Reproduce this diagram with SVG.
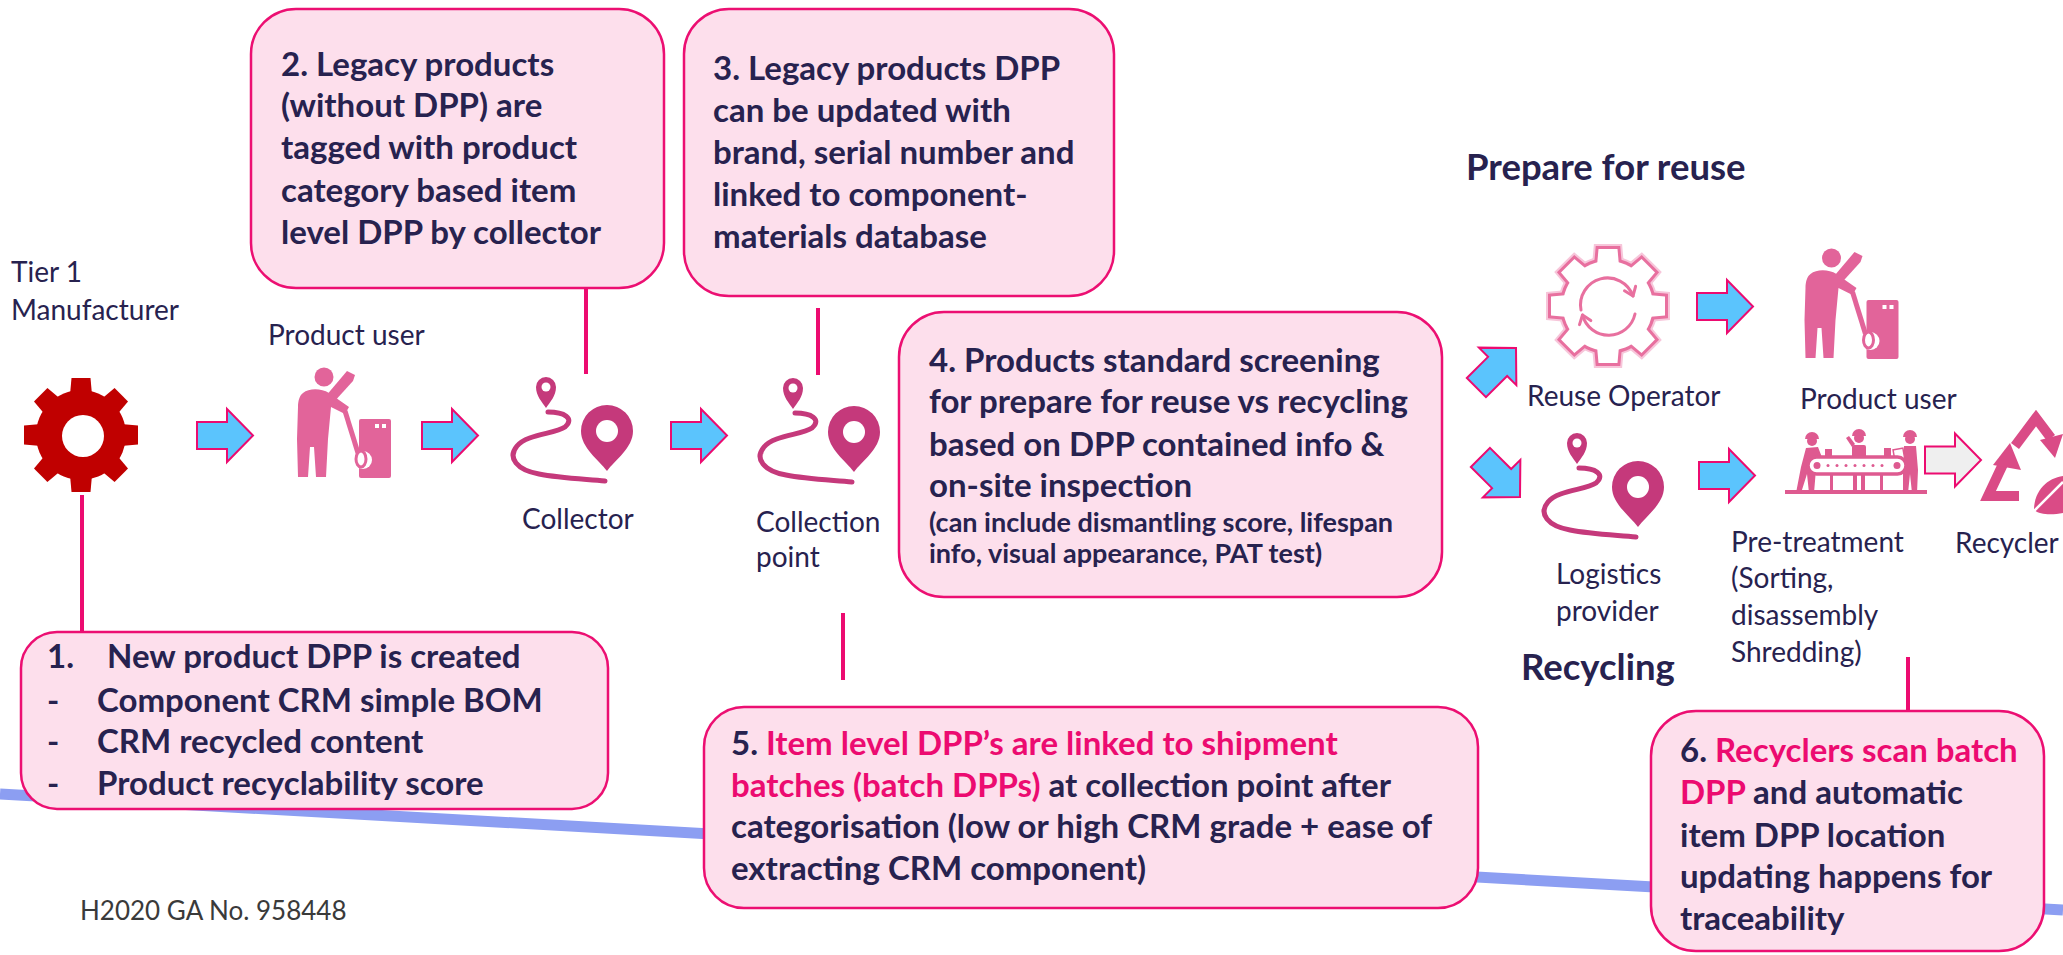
<svg xmlns="http://www.w3.org/2000/svg" width="2063" height="955" viewBox="0 0 2063 955">
<defs>
<style>
.box{fill:#FDDFEC;stroke:#EC0F72;stroke-width:2.5}
.b{font-family:Lato,"Liberation Sans",sans-serif;font-weight:700;font-size:33px;fill:#27224F}
.s{font-size:27px}
.hl{fill:#EC0B70}
.lbl{font-family:Lato,"Liberation Sans",sans-serif;font-size:28px;fill:#27224F}
.hd{font-family:Lato,"Liberation Sans",sans-serif;font-weight:700;font-size:36.5px;fill:#27224F}
.foot{font-family:Lato,"Liberation Sans",sans-serif;font-size:26px;fill:#3A3A3A}
.lnk{stroke:#EC0B70;stroke-width:4;fill:none}
.arr{fill:#5BC4FD;stroke:#EC0B70;stroke-width:2}
.arrg{fill:#EFEFEF;stroke:#EC0B70;stroke-width:2}
</style>
<!-- block arrow, tail at origin, pointing +x -->
<path id="arrow" d="M0,-13.5 H30 V-26.5 L56,0 L30,26.5 V13.5 H0 Z"/>
<!-- eight-tooth gear silhouette centred on origin -->
<g id="gearShape">
<circle r="45"/>
<polygon points="-11,-40 -9.5,-57 9.5,-57 11,-40"/>
<polygon points="-11,-40 -9.5,-57 9.5,-57 11,-40" transform="rotate(45)"/>
<polygon points="-11,-40 -9.5,-57 9.5,-57 11,-40" transform="rotate(90)"/>
<polygon points="-11,-40 -9.5,-57 9.5,-57 11,-40" transform="rotate(135)"/>
<polygon points="-11,-40 -9.5,-57 9.5,-57 11,-40" transform="rotate(180)"/>
<polygon points="-11,-40 -9.5,-57 9.5,-57 11,-40" transform="rotate(225)"/>
<polygon points="-11,-40 -9.5,-57 9.5,-57 11,-40" transform="rotate(270)"/>
<polygon points="-11,-40 -9.5,-57 9.5,-57 11,-40" transform="rotate(315)"/>
</g>
<!-- route with two location pins -->
<symbol id="route" viewBox="0 0 125 108" overflow="visible">
<g fill="#C5397B">
<path d="M37,34 C33,28 27,22 27,13 A10,10 0 1 1 47,13 C47,22 41,28 37,34 Z"/>
<path d="M98,97 C90,86 72,74 72,57 A26,26 0 1 1 124,57 C124,74 106,86 98,97 Z"/>
</g>
<circle cx="37" cy="13" r="4.5" fill="#fff"/>
<circle cx="98" cy="57" r="11" fill="#fff"/>
<path d="M39,38 C55,38 66,44 56,53 C46,60 18,60 8,72 C-2,84 8,96 30,100 C50,104 75,105 96,107" fill="none" stroke="#C5397B" stroke-width="5" stroke-linecap="round"/>
</symbol>
<!-- person loading a washing machine -->
<symbol id="user" viewBox="0 0 94 111" overflow="visible">
<g fill="#E2649A">
<circle cx="27" cy="10" r="9.5"/>
<path d="M28,30 L50,4 L58,8 L56,14 L36,36 Z"/>
<path d="M6,26 C12,21 24,21 32,26 L52,40 L48,47 L34,40 L31,72 L29,110 L19,110 L17,80 L13,80 L11,110 L1,110 L0,72 L1,40 C1,33 3,28 6,26 Z"/>
<rect x="62" y="52" width="32" height="59" rx="2"/>
</g>
<rect x="78" y="57" width="4" height="4" fill="#fff"/>
<rect x="85" y="57" width="4" height="4" fill="#fff"/>
<circle cx="66" cy="93" r="9" fill="#fff"/>
<path d="M48,44 L61,86" stroke="#E2649A" stroke-width="5" fill="none"/>
<ellipse cx="64" cy="92" rx="5" ry="8" fill="none" stroke="#E2649A" stroke-width="3"/>
</symbol>
</defs>

<rect width="2063" height="955" fill="#fff"/>

<!-- timeline band behind the boxes -->
<line x1="0" y1="794" x2="2063" y2="910" stroke="#8C9EF2" stroke-width="11"/>

<!-- connectors -->
<g id="connectors">
<line class="lnk" x1="82" y1="495" x2="82" y2="632"/>
<line class="lnk" x1="586" y1="288" x2="586" y2="374"/>
<line class="lnk" x1="818" y1="308" x2="818" y2="375"/>
<line class="lnk" x1="843" y1="613" x2="843" y2="680"/>
<line class="lnk" x1="1908" y1="657" x2="1908" y2="724"/>
<use href="#arrow" class="arr" transform="translate(197 435.5)"/>
<use href="#arrow" class="arr" transform="translate(422 435.5)"/>
<use href="#arrow" class="arr" transform="translate(671 435.5)"/>
<use href="#arrow" class="arr" transform="translate(1516 348) rotate(-45) translate(-56 0)"/>
<use href="#arrow" class="arr" transform="translate(1520 497) rotate(45) translate(-56 0)"/>
<use href="#arrow" class="arr" transform="translate(1697 306.5)"/>
<use href="#arrow" class="arr" transform="translate(1699 475.5)"/>
<use href="#arrow" class="arrg" transform="translate(1925 460)"/>
</g>

<!-- Tier 1 manufacturer -->
<g id="manufacturer">
<text class="lbl" x="11" y="282">Tier 1</text>
<text class="lbl" x="11" y="320">Manufacturer</text>
<use href="#gearShape" fill="#C00000" transform="translate(81 435)"/>
<circle cx="83" cy="436" r="21" fill="#fff"/>
</g>

<g id="product-user">
<text class="lbl" x="268" y="345">Product user</text>
<use href="#user" x="297" y="367" width="94" height="111"/>
</g>

<g id="collector">
<use href="#route" x="509" y="374" width="125" height="108"/>
<text class="lbl" x="522" y="529">Collector</text>
</g>

<g id="collection-point">
<use href="#route" x="756" y="375" width="125" height="108"/>
<text class="lbl" x="756" y="532">Collection</text>
<text class="lbl" x="756" y="567">point</text>
</g>

<text id="prepare-title" class="hd" x="1466" y="180">Prepare for reuse</text>

<g id="reuse-operator">
<g transform="translate(1608 306)">
<use href="#gearShape" fill="#F7C6DA" stroke="#F7C6DA" stroke-width="10"/>
<use href="#gearShape" fill="#E8709F" stroke="#E8709F" stroke-width="6"/>
<use href="#gearShape" fill="#fff"/>
<g fill="none" stroke="#E8709F" stroke-width="3" stroke-linecap="round" stroke-linejoin="round">
<path d="M-27,4 A27,27 0 0 1 25,-10"/>
<polyline points="27.6,-19.7 25,-10 16.5,-15.2"/>
<path d="M27,8 A27,27 0 0 1 -25.5,9"/>
<polyline points="-17.2,14.6 -25.5,9 -28.5,18.6"/>
</g>
</g>
<text class="lbl" x="1527" y="406">Reuse Operator</text>
</g>

<g id="product-user-2">
<use href="#user" x="1804" y="248" width="95" height="111"/>
<text class="lbl" x="1800" y="409">Product user</text>
</g>

<g id="logistics-provider">
<use href="#route" x="1540" y="430" width="125" height="108"/>
<text class="lbl" x="1556" y="584">Logistics</text>
<text class="lbl" x="1556" y="621">provider</text>
</g>

<text id="recycling-title" class="hd" x="1521" y="680">Recycling</text>

<g id="pre-treatment">
<g fill="#DE5A90">
<rect x="1785" y="490" width="142" height="4"/>
<rect x="1830" y="474" width="3" height="17"/>
<rect x="1880" y="474" width="3" height="17"/>
<!-- workers -->
<circle cx="1812" cy="441" r="5"/>
<path d="M1805,439 A7,7 0 0 1 1819,439 Z"/>
<path d="M1806,448 L1818,447 L1823,460 L1816,469 L1814,493 L1809,493 L1807,474 L1801,493 L1796,493 L1801,467 Z"/>
<circle cx="1859" cy="438" r="5"/>
<path d="M1852,436 A7,7 0 0 1 1866,436 Z"/>
<rect x="1852" y="445" width="14" height="13" rx="2"/>
<rect x="1853" y="474" width="4" height="17"/>
<rect x="1861" y="474" width="4" height="17"/>
<path d="M1852,447 L1846,438 L1849,436 L1855,444 Z"/>
<circle cx="1910" cy="439" r="5"/>
<path d="M1903,437 A7,7 0 0 1 1917,437 Z"/>
<path d="M1904,446 L1916,446 L1918,470 L1917,493 L1912,493 L1910,474 L1908,493 L1903,493 L1903,470 Z"/>
<rect x="1825" y="449" width="7" height="8"/>
<rect x="1884" y="448" width="7" height="9"/>
</g>
<rect x="1894" y="449" width="10" height="13" fill="#fff" stroke="#DE5A90" stroke-width="1.5" transform="rotate(-10 1899 455)"/>
<rect x="1808" y="457" width="98" height="17" rx="8.5" fill="#fff" stroke="#DE5A90" stroke-width="3.5"/>
<g fill="#DE5A90">
<circle cx="1817" cy="465.5" r="3.5"/>
<circle cx="1897" cy="465.5" r="3.5"/>
<circle cx="1828" cy="465.5" r="1.5"/><circle cx="1837" cy="465.5" r="1.5"/><circle cx="1846" cy="465.5" r="1.5"/>
<circle cx="1855" cy="465.5" r="1.5"/><circle cx="1864" cy="465.5" r="1.5"/><circle cx="1873" cy="465.5" r="1.5"/>
<circle cx="1882" cy="465.5" r="1.5"/>
</g>
<text class="lbl" x="1731" y="552">Pre-treatment</text>
<text class="lbl" x="1731" y="588">(Sorting,</text>
<text class="lbl" x="1731" y="625">disassembly</text>
<text class="lbl" x="1731" y="662">Shredding)</text>
</g>

<g id="recycler">
<g fill="none" stroke="#DA4B86" stroke-width="10" stroke-linejoin="miter">
<path d="M2004,462 L1988,496 L2019,496"/>
<path d="M2015,446 L2036,418 L2051,438"/>
</g>
<g fill="#DA4B86">
<polygon points="2010,443 1993,465 2021,470"/>
<polygon points="2040,440 2063,434 2055,458"/>
<path d="M2034,510 C2034,490 2048,478 2063,476 L2063,513 C2052,515 2040,515 2034,510 Z"/>
</g>
<line x1="2033" y1="512" x2="2063" y2="482" stroke="#fff" stroke-width="2.5"/>
<text class="lbl" x="1955" y="553">Recycler</text>
</g>

<!-- note boxes -->
<g id="n1">
<rect class="box" x="21" y="632" width="587" height="177" rx="36"/>
<text class="b"><tspan x="47" y="668">1.</tspan><tspan x="107" y="668">New product DPP is created</tspan></text>
<text class="b"><tspan x="47" y="712">-</tspan><tspan x="97" y="712">Component CRM simple BOM</tspan></text>
<text class="b"><tspan x="47" y="753">-</tspan><tspan x="97" y="753">CRM recycled content</tspan></text>
<text class="b"><tspan x="47" y="795">-</tspan><tspan x="97" y="795">Product recyclability score</tspan></text>
</g>

<g id="n2">
<rect class="box" x="251" y="9" width="413" height="279" rx="45"/>
<text class="b" x="281" y="76">2. Legacy products</text>
<text class="b" x="281" y="117">(without DPP) are</text>
<text class="b" x="281" y="159">tagged with product</text>
<text class="b" x="281" y="202">category based item</text>
<text class="b" x="281" y="244">level DPP by collector</text>
</g>

<g id="n3">
<rect class="box" x="684" y="9" width="430" height="287" rx="45"/>
<text class="b" x="713" y="80">3. Legacy products DPP</text>
<text class="b" x="713" y="122">can be updated with</text>
<text class="b" x="713" y="164">brand, serial number and</text>
<text class="b" x="713" y="206">linked to component-</text>
<text class="b" x="713" y="248">materials database</text>
</g>

<g id="n4">
<rect class="box" x="899" y="312" width="543" height="285" rx="45"/>
<text class="b" x="929" y="372">4. Products standard screening</text>
<text class="b" x="929" y="413">for prepare for reuse vs recycling</text>
<text class="b" x="929" y="456">based on DPP contained info &amp;</text>
<text class="b" x="929" y="497">on-site inspection</text>
<text class="b s" x="929" y="532">(can include dismantling score, lifespan</text>
<text class="b s" x="929" y="563">info, visual appearance, PAT test)</text>
</g>

<g id="n5">
<rect class="box" x="704" y="707" width="774" height="201" rx="40"/>
<text class="b" x="731" y="755">5. <tspan class="hl">Item level DPP’s are linked to shipment</tspan></text>
<text class="b" x="731" y="797"><tspan class="hl">batches (batch DPPs)</tspan> at collection point after</text>
<text class="b" x="731" y="838">categorisation (low or high CRM grade + ease of</text>
<text class="b" x="731" y="880">extracting CRM component)</text>
</g>

<g id="n6">
<rect class="box" x="1651" y="711" width="393" height="240" rx="45"/>
<text class="b" x="1680" y="762">6. <tspan class="hl">Recyclers scan batch</tspan></text>
<text class="b" x="1680" y="804"><tspan class="hl">DPP</tspan> and automatic</text>
<text class="b" x="1680" y="847">item DPP location</text>
<text class="b" x="1680" y="888">updating happens for</text>
<text class="b" x="1680" y="930">traceability</text>
</g>

<text id="footer" class="foot" x="80" y="920">H2020 GA No. 958448</text>
</svg>
